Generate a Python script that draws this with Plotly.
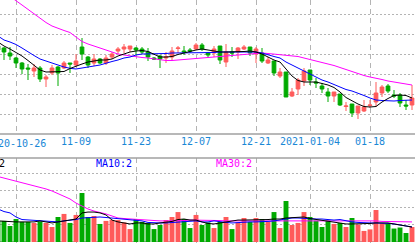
import plotly.graph_objects as go

dates = [
    "2020-10-21", "2020-10-22", "2020-10-23", "2020-10-26", "2020-10-27", "2020-10-28", "2020-10-29", "2020-10-30",
    "2020-11-02", "2020-11-03", "2020-11-04", "2020-11-05", "2020-11-06", "2020-11-09", "2020-11-10", "2020-11-11",
    "2020-11-12", "2020-11-13", "2020-11-16", "2020-11-17", "2020-11-18", "2020-11-19", "2020-11-20", "2020-11-23",
    "2020-11-24", "2020-11-25", "2020-11-26", "2020-11-27", "2020-11-30", "2020-12-01", "2020-12-02", "2020-12-03",
    "2020-12-04", "2020-12-07", "2020-12-08", "2020-12-09", "2020-12-10", "2020-12-11", "2020-12-14", "2020-12-15",
    "2020-12-16", "2020-12-17", "2020-12-18", "2020-12-21", "2020-12-22", "2020-12-23", "2020-12-24", "2020-12-25",
    "2020-12-28", "2020-12-29", "2020-12-30", "2020-12-31", "2021-01-04", "2021-01-05", "2021-01-06", "2021-01-07",
    "2021-01-08", "2021-01-11", "2021-01-12", "2021-01-13", "2021-01-14", "2021-01-15", "2021-01-18", "2021-01-19",
    "2021-01-20", "2021-01-21", "2021-01-22", "2021-01-25", "2021-01-26", "2021-01-27",
]

opens = [16.8, 16.6, 16.1, 15.6, 15.1, 14.6, 14.3, 14.6, 13.5, 14.1, 14.7, 14.6, 15.1, 14.9, 16.7, 15.7, 15.1, 15.5,
         15.1, 15.7, 16.3, 16.5, 16.5, 16.6, 16.5, 16.2, 15.6, 15.8, 15.6, 15.7, 16.55, 16.3, 16.4, 16.5, 16.9, 16.1,
         16.1, 16.8, 15.2, 16.2, 16.2, 16.5, 16.7, 16.0, 16.1, 15.1, 15.3, 13.8, 14.2, 11.8, 12.5, 13.3, 14.4, 13.2,
         12.8, 12.2, 11.8, 12.0, 10.75, 11.0, 10.1, 10.3, 10.85, 11.2, 12.1, 12.8, 11.9, 11.9, 10.9, 10.9]
highs = [17.0, 16.7, 16.7, 15.7, 15.2, 15.0, 15.0, 14.8, 13.9, 14.9, 14.8, 15.3, 15.1, 16.0, 17.6, 15.8, 16.0, 15.6,
         15.9, 16.2, 16.7, 17.0, 16.8, 16.7, 16.7, 16.6, 15.7, 15.9, 16.2, 16.7, 16.8, 16.8, 16.6, 17.1, 17.1, 16.2,
         16.8, 16.8, 17.0, 16.7, 16.7, 16.9, 16.7, 16.7, 16.6, 15.7, 15.3, 14.6, 14.2, 12.6, 13.6, 14.6, 14.4, 13.6,
         13.1, 12.6, 12.2, 12.0, 11.2, 11.0, 10.8, 11.4, 11.4, 13.2, 12.9, 13.0, 12.4, 12.1, 11.4, 12.9]
lows = [15.9, 15.4, 15.4, 14.6, 14.0, 13.4, 13.7, 13.2, 12.7, 13.9, 12.8, 14.5, 14.1, 14.8, 15.4, 14.6, 14.8, 15.0,
        14.9, 15.5, 16.0, 16.1, 16.2, 15.9, 16.0, 15.3, 15.4, 14.6, 15.1, 15.4, 16.1, 15.9, 16.1, 16.4, 16.3, 15.6,
        15.7, 15.0, 14.7, 15.7, 15.5, 16.4, 15.8, 15.1, 15.1, 15.0, 13.8, 13.6, 11.7, 11.7, 11.9, 12.8, 12.9, 12.6,
        12.1, 11.2, 11.2, 10.8, 10.3, 9.7, 9.5, 10.2, 10.6, 10.7, 11.7, 12.1, 11.6, 10.7, 10.4, 10.4]
closes = [16.4, 16.2, 15.8, 15.1, 14.5, 14.5, 14.6, 13.5, 13.7, 14.6, 14.1, 15.1, 15.0, 15.3, 16.0, 14.9, 15.5, 15.1,
          15.6, 16.0, 16.5, 16.7, 16.8, 16.4, 16.2, 15.7, 15.5, 15.5, 15.7, 16.3, 16.6, 16.2, 16.3, 16.9, 16.5, 15.9,
          16.5, 15.4, 16.2, 16.1, 16.6, 16.7, 16.1, 16.5, 15.3, 15.4, 14.1, 14.2, 11.7, 12.2, 13.4, 14.3, 13.4, 13.1,
          12.5, 11.8, 12.2, 10.9, 10.8, 10.1, 10.8, 10.7, 10.9, 12.1, 12.7, 12.3, 11.8, 11.1, 10.8, 11.6]

ma5 = [17.2, 16.8, 16.5, 16.15, 15.8, 15.35, 14.9, 14.4, 14.2, 14.2, 14.2, 14.25, 14.55, 14.8, 15.0, 15.2, 15.3, 15.4,
       15.4, 15.5, 15.8, 16.0, 16.2, 16.3, 16.35, 16.25, 16.0, 15.7, 15.7, 15.75, 15.95, 16.1, 16.3, 16.4, 16.5, 16.4,
       16.3, 16.2, 16.2, 16.2, 16.2, 16.25, 16.3, 16.2, 16.0, 15.7, 15.4, 15.2, 14.5, 13.8, 13.35, 13.2, 13.2, 13.2,
       13.05, 12.9, 12.65, 12.2, 11.65, 11.3, 11.0, 10.75, 10.7, 10.75, 11.2, 11.55, 11.85, 11.9, 11.85, 11.6]
ma10 = [17.8, 17.4, 17.2, 16.95, 16.6, 16.2, 15.85, 15.5, 15.3, 15.05, 14.9, 14.7, 14.57, 14.5, 14.6, 14.67, 14.8, 14.9,
        15.1, 15.25, 15.4, 15.6, 15.7, 15.9, 16.0, 16.0, 16.0, 16.02, 16.05, 16.1, 16.1, 16.1, 16.1, 16.1, 16.1, 16.1,
        16.15, 16.2, 16.2, 16.2, 16.2, 16.2, 16.2, 16.2, 16.1, 15.9, 15.75, 15.6, 15.2, 14.9, 14.6, 14.3, 13.95, 13.65,
        13.4, 13.2, 12.95, 12.7, 12.45, 12.3, 12.1, 11.85, 11.6, 11.4, 11.35, 11.3, 11.3, 11.35, 11.4, 11.4]
ma30 = [22.6, 22.2, 21.75, 21.33, 20.9, 20.45, 20.0, 19.6, 19.15, 18.8, 18.55, 18.35, 18.15, 17.7, 17.25, 17.0, 16.8,
        16.6, 16.4, 16.15, 16.0, 15.9, 15.8, 15.75, 15.65, 15.6, 15.5, 15.45, 15.35, 15.35, 15.4, 15.45, 15.5, 15.6,
        15.65, 15.7, 15.75, 15.8, 15.85, 15.9, 15.95, 16.0, 16.05, 16.1, 16.1, 16.05, 16.0, 15.95, 15.9, 15.85, 15.75,
        15.6, 15.45, 15.3, 15.2, 15.0, 14.85, 14.65, 14.45, 14.2, 14.0, 13.85, 13.7, 13.6, 13.45, 13.3, 13.18, 13.1,
        13.0, 12.9]

volumes = [12.4, 12.4, 9.4, 13.5, 11.8, 11.8, 11.2, 12.1, 11.2, 8.8, 14.7, 16.5, 11.2, 15.9, 28.8, 14.7, 15.3, 10.6,
           12.4, 12.9, 12.9, 11.5, 7.6, 13.5, 11.8, 11.2, 7.6, 10.0, 12.9, 14.7, 17.6, 13.5, 8.2, 15.9, 10.0, 11.5,
           8.2, 11.8, 14.7, 7.6, 11.5, 14.1, 11.8, 14.1, 13.5, 11.8, 17.6, 8.2, 24.1, 10.0, 11.2, 17.6, 14.7, 12.6,
           8.8, 12.6, 10.6, 11.2, 8.8, 14.1, 10.3, 6.5, 7.4, 18.8, 10.9, 10.6, 7.9, 8.5, 5.3, 8.8]
vma5 = [12.4, 12.1, 11.8, 11.8, 11.8, 11.8, 11.8, 12.4, 11.8, 11.2, 11.8, 12.4, 12.6, 13.5, 17.1, 17.6, 17.6, 17.1,
        15.9, 12.9, 11.8, 11.2, 10.6, 11.2, 11.2, 10.6, 10.6, 11.2, 11.5, 12.1, 13.2, 13.5, 12.9, 12.9, 11.8, 10.9,
        10.6, 11.2, 11.8, 12.4, 12.9, 12.9, 12.9, 12.9, 12.9, 13.2, 13.5, 13.5, 14.1, 14.4, 14.7, 14.7, 13.8, 13.2,
        12.6, 12.1, 11.8, 11.2, 10.6, 10.6, 10.6, 10.6, 10.9, 11.2, 11.2, 11.2, 10.6, 10.0, 9.4, 8.8]
vma10 = [19.4, 17.9, 17.1, 14.7, 13.2, 12.9, 12.6, 12.4, 12.1, 11.8, 11.8, 12.4, 12.6, 13.2, 14.1, 14.4, 14.7, 14.7,
         14.4, 14.1, 13.5, 13.2, 12.9, 12.6, 12.4, 11.5, 11.2, 11.2, 11.2, 11.5, 11.8, 11.8, 12.1, 12.4, 11.8, 11.8,
         12.4, 11.8, 11.5, 11.2, 11.5, 11.8, 11.8, 11.8, 11.8, 12.1, 12.4, 12.9, 13.8, 14.1, 14.1, 13.8, 13.8, 13.5,
         13.5, 13.2, 12.9, 13.2, 12.4, 11.8, 11.5, 11.2, 11.2, 11.2, 11.2, 10.9, 10.6, 10.0, 9.4, 8.8]
vma30 = [38.5, 37.6, 36.8, 35.9, 35.0, 34.1, 33.2, 32.4, 31.2, 30.0, 28.5, 27.1, 25.3, 22.9, 20.9, 19.4, 18.2, 17.4,
         16.5, 15.3, 14.1, 13.8, 13.5, 13.2, 12.9, 12.6, 12.4, 12.4, 12.4, 12.4, 12.6, 12.6, 12.9, 12.9, 12.9, 12.6,
         12.6, 12.6, 12.4, 12.4, 12.4, 12.4, 12.4, 12.4, 12.4, 12.4, 12.4, 12.4, 12.4, 12.4, 12.6, 12.6, 12.6, 12.4,
         12.4, 12.4, 12.4, 12.4, 12.4, 12.4, 12.4, 12.4, 12.4, 12.4, 12.1, 12.1, 12.1, 12.1, 11.8, 11.8]

tick_dates = ["2020-10-26", "2020-11-09", "2020-11-23", "2020-12-07", "2020-12-21", "2021-01-04", "2021-01-18"]
tick_labels = ["2020-10-26", "11-09", "11-23", "12-07", "12-21", "2021-01-04", "01-18"]

RED = "#ff5a5a"
GREEN = "#00aa00"
MONO = "DejaVu Sans Mono"
GRID = "#b4b4b4"

bar_colors = [RED if c >= o else GREEN for o, c in zip(opens, closes)]

fig = go.Figure()
fig.add_trace(go.Candlestick(
    x=dates, open=opens, high=highs, low=lows, close=closes,
    xaxis="x", yaxis="y", whiskerwidth=0,
    increasing=dict(line=dict(color=RED, width=1), fillcolor=RED),
    decreasing=dict(line=dict(color=GREEN, width=1), fillcolor=GREEN),
))
for vals, col in [(ma30, "#ff00ff"), (ma10, "#0000ff"), (ma5, "#000000")]:
    fig.add_trace(go.Scatter(x=dates, y=vals, mode="lines", xaxis="x", yaxis="y",
                             line=dict(color=col, width=1)))
fig.add_trace(go.Bar(x=dates, y=volumes, xaxis="x2", yaxis="y2", width=0.82,
                     marker=dict(color=bar_colors, line=dict(width=0))))
for vals, col in [(vma30, "#ff00ff"), (vma10, "#0000ff"), (vma5, "#000000")]:
    fig.add_trace(go.Scatter(x=dates, y=vals, mode="lines", xaxis="x2", yaxis="y2",
                             line=dict(color=col, width=1)))

H = 243.0
W = 415.0
xcommon = dict(type="category", categoryorder="array", categoryarray=dates,
               range=[0.333, 69.5], tickvals=tick_dates,
               showgrid=True, gridcolor=GRID, griddash="5px,4px", gridwidth=1,
               zeroline=False, showline=False, ticks="", fixedrange=True, automargin=False)
fig.update_layout(
    width=415, height=243, margin=dict(l=0, r=0, t=0, b=0, autoexpand=False),
    paper_bgcolor="white", plot_bgcolor="white", showlegend=False, boxgap=0.12,
    xaxis=dict(**xcommon, anchor="y", rangeslider=dict(visible=False),
               ticktext=[""] + tick_labels[1:],
               tickfont=dict(family=MONO, size=10, color="#1a88d6")),
    xaxis2=dict(**xcommon, anchor="y2", showticklabels=False),
    yaxis=dict(domain=[(H - 134) / H, 1], range=[8.0, 21.4], dtick=2, tick0=0,
               showticklabels=False, showgrid=True, gridcolor=GRID, griddash="2px,2px",
               zeroline=False, showline=False, automargin=False),
    yaxis2=dict(domain=[0, (H - 158) / H], range=[-0.6, 49.4], dtick=10, tick0=0,
                showticklabels=False, showgrid=True, gridcolor=GRID, griddash="2px,2px",
                zeroline=False, showline=False, automargin=False),
    shapes=[
        dict(type="line", xref="paper", yref="paper", x0=0, x1=1, y0=(H - 134) / H, y1=(H - 134) / H,
             line=dict(color="#a0a0a0", width=1.5)),
        dict(type="line", xref="paper", yref="paper", x0=0, x1=1, y0=(H - 158) / H, y1=(H - 158) / H,
             line=dict(color="#a0a0a0", width=1.5)),
    ],
    annotations=[
        dict(text=tick_labels[0], x=tick_dates[0], xref="x", y=(H - 143.5) / H, yref="paper",
             xanchor="center", yanchor="middle", showarrow=False,
             font=dict(family=MONO, size=10, color="#1a88d6"))
    ] + [
        dict(text=t, x=px / W, y=(H - 163.5) / H, xref="paper", yref="paper",
             xanchor="right", yanchor="middle", showarrow=False,
             font=dict(family=MONO, size=10, color=c))
        for t, px, c in [("MA5:2", 7, "#000000"), ("MA10:2", 134, "#0000ff"), ("MA30:2", 254, "#ff00ff")]
    ],
)
fig.write_html("out.html")
